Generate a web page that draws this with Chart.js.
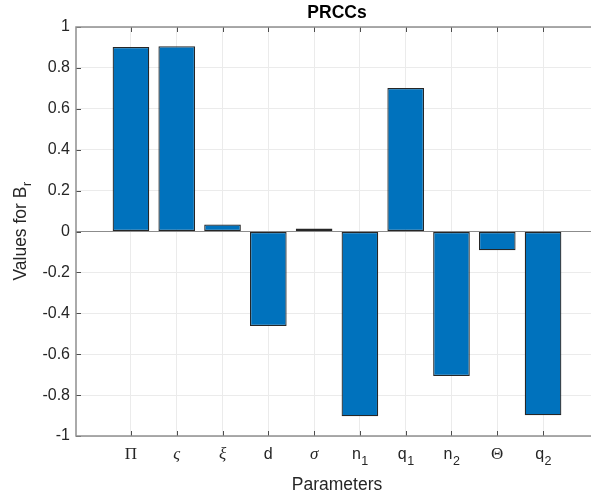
<!DOCTYPE html>
<html>
<head>
<meta charset="utf-8">
<script src="https://cdn.jsdelivr.net/npm/chart.js@4/dist/chart.umd.min.js"></script>
<style>
  html, body { margin: 0; padding: 0; background: #fff; overflow: hidden; }
  #wrap { width: 591px; height: 497px; overflow: hidden; position: relative; }
  #prccChart { position: absolute; left: 0; top: 0; }
</style>
</head>
<body>
<div id="wrap"><canvas id="prccChart" width="610" height="497"></canvas></div>
<script>
// parameters on the x axis (TeX-like, "_" marks a subscript) and their PRCC values
const params = ['Π', 'ς', 'ξ', 'd', 'σ', 'n_1', 'q_1', 'n_2', 'Θ', 'q_2'];
const prcc = [0.902, 0.906, 0.034, -0.462, 0.015, -0.903, 0.702, -0.706, -0.092, -0.898];
const yTicks = [-1, -0.8, -0.6, -0.4, -0.2, 0, 0.2, 0.4, 0.6, 0.8, 1];
const yLabel = 'Values for B_r';

// greek symbols are drawn in a serif face like the TeX interpreter does
const serifLabels = ['Π', 'ς', 'ξ', 'σ', 'Θ'];
const italicLabels = ['ς', 'ξ', 'σ'];

const prccChart = document.getElementById('prccChart');

// draws "base_sub" text with a lowered, smaller subscript, centred on x
const drawSubText = (ctx, text, x, y, baseFont, subFont, drop) => {
	const [base, sub] = text.split('_');
	ctx.font = baseFont;
	const wb = ctx.measureText(base).width;
	ctx.font = subFont;
	const ws = sub ? ctx.measureText(sub).width : 0;
	let start = x - (wb + ws) / 2;
	ctx.textAlign = 'left';
	ctx.textBaseline = 'alphabetic';
	ctx.font = baseFont;
	ctx.fillText(base, start, y);
	if (sub) {
		ctx.font = subFont;
		ctx.fillText(sub, start + wb + 0.5, y + drop);
	}
};

const axesBox = {
	id: 'axesBox',
	beforeDatasetsDraw(chart) {
		const { ctx, chartArea: a, scales } = chart;
		const y0 = scales.y.getPixelForValue(0);
		ctx.save();
		ctx.strokeStyle = '#8c8c8c';
		ctx.lineWidth = 1;
		ctx.beginPath();
		ctx.moveTo(a.left, y0);
		ctx.lineTo(a.right, y0);
		ctx.stroke();
		ctx.restore();
	},
	afterDraw(chart) {
		const { ctx, chartArea: a, scales } = chart;
		ctx.save();
		// inward tick marks
		ctx.strokeStyle = '#4d4d4d';
		ctx.lineWidth = 1;
		ctx.beginPath();
		params.forEach((p, i) => {
			const px = Math.round(scales.x.getPixelForValue(i + 1)) + 0.5;
			ctx.moveTo(px, a.bottom);
			ctx.lineTo(px, a.bottom - 5);
			ctx.moveTo(px, a.top);
			ctx.lineTo(px, a.top + 5);
		});
		yTicks.forEach((v) => {
			const py = Math.round(scales.y.getPixelForValue(v)) + 0.5;
			ctx.moveTo(a.left, py);
			ctx.lineTo(a.left + 5, py);
			ctx.moveTo(a.right, py);
			ctx.lineTo(a.right - 5, py);
		});
		ctx.stroke();
		// box
		ctx.strokeStyle = '#8f8f8f';
		ctx.lineWidth = 1.5;
		ctx.strokeRect(a.left, a.top, a.right - a.left, a.bottom - a.top);

		// x tick labels with real subscripts
		ctx.fillStyle = '#262626';
		params.forEach((p, i) => {
			const px = scales.x.getPixelForValue(i + 1);
			if (serifLabels.includes(p)) {
				const st = italicLabels.includes(p) ? 'italic ' : '';
				drawSubText(ctx, p, px, a.bottom + 23, st + '17px "Liberation Serif"', '', 0);
			} else {
				drawSubText(ctx, p, px, a.bottom + 23, '16px "Liberation Sans"', '12.5px "Liberation Sans"', 5.5);
			}
		});

		// y axis title, rotated, with subscript r
		ctx.translate(26, (a.top + a.bottom) / 2);
		ctx.rotate(-Math.PI / 2);
		drawSubText(ctx, yLabel, 0, 0, '17.5px "Liberation Sans"', '12.5px "Liberation Sans"', 5);
		ctx.restore();
	},
};

const newBarChart = new Chart(prccChart, {
	type: 'bar',
	data: {
		datasets: [
			{
				label: 'PRCC',
				data: prcc.map((v, i) => ({ x: i + 1, y: v })),
				backgroundColor: '#0072BD',
				borderColor: '#262626',
				borderWidth: 1.25,
				borderSkipped: false,
				barPercentage: 0.8,
				categoryPercentage: 1,
			},
		],
	},
	options: {
		responsive: false,
		animation: false,
		// the axes box runs a little past the right edge of the picture
		layout: { padding: { left: 0, right: 12, top: 0, bottom: 0 } },
		plugins: {
			legend: { display: false },
			tooltip: { enabled: false },
			title: {
				display: true,
				text: 'PRCCs',
				fullSize: false,
				color: '#000',
				font: { family: 'Liberation Sans', size: 17.5, weight: 'bold' },
				padding: { top: 2.5, bottom: 3.5 },
			},
		},
		scales: {
			x: {
				type: 'linear',
				min: -0.2,
				max: 11.2,
				offset: false,
				afterBuildTicks: (scale) => {
					scale.ticks = params.map((p, i) => ({ value: i + 1 }));
				},
				afterFit: (scale) => {
					scale.height = 61;
				},
				border: { display: false },
				grid: { color: '#ebebeb', drawTicks: false, offset: false },
				ticks: { display: false },
				title: {
					display: true,
					text: 'Parameters',
					color: '#262626',
					font: { family: 'Liberation Sans', size: 17.5 },
					padding: { top: 0, bottom: 1.5 },
				},
			},
			y: {
				min: -1,
				max: 1,
				afterBuildTicks: (scale) => {
					scale.ticks = yTicks.map((v) => ({ value: v }));
				},
				afterFit: (scale) => {
					scale.width = 76;
				},
				border: { display: false },
				grid: { color: '#ebebeb', drawTicks: false },
				ticks: {
					padding: 6,
					color: '#262626',
					font: { family: 'Liberation Sans', size: 16 },
					callback: (v) => String(Number(v.toFixed(1))),
				},
				title: { display: false },
			},
		},
	},
	plugins: [axesBox],
});
</script>
</body>
</html>
